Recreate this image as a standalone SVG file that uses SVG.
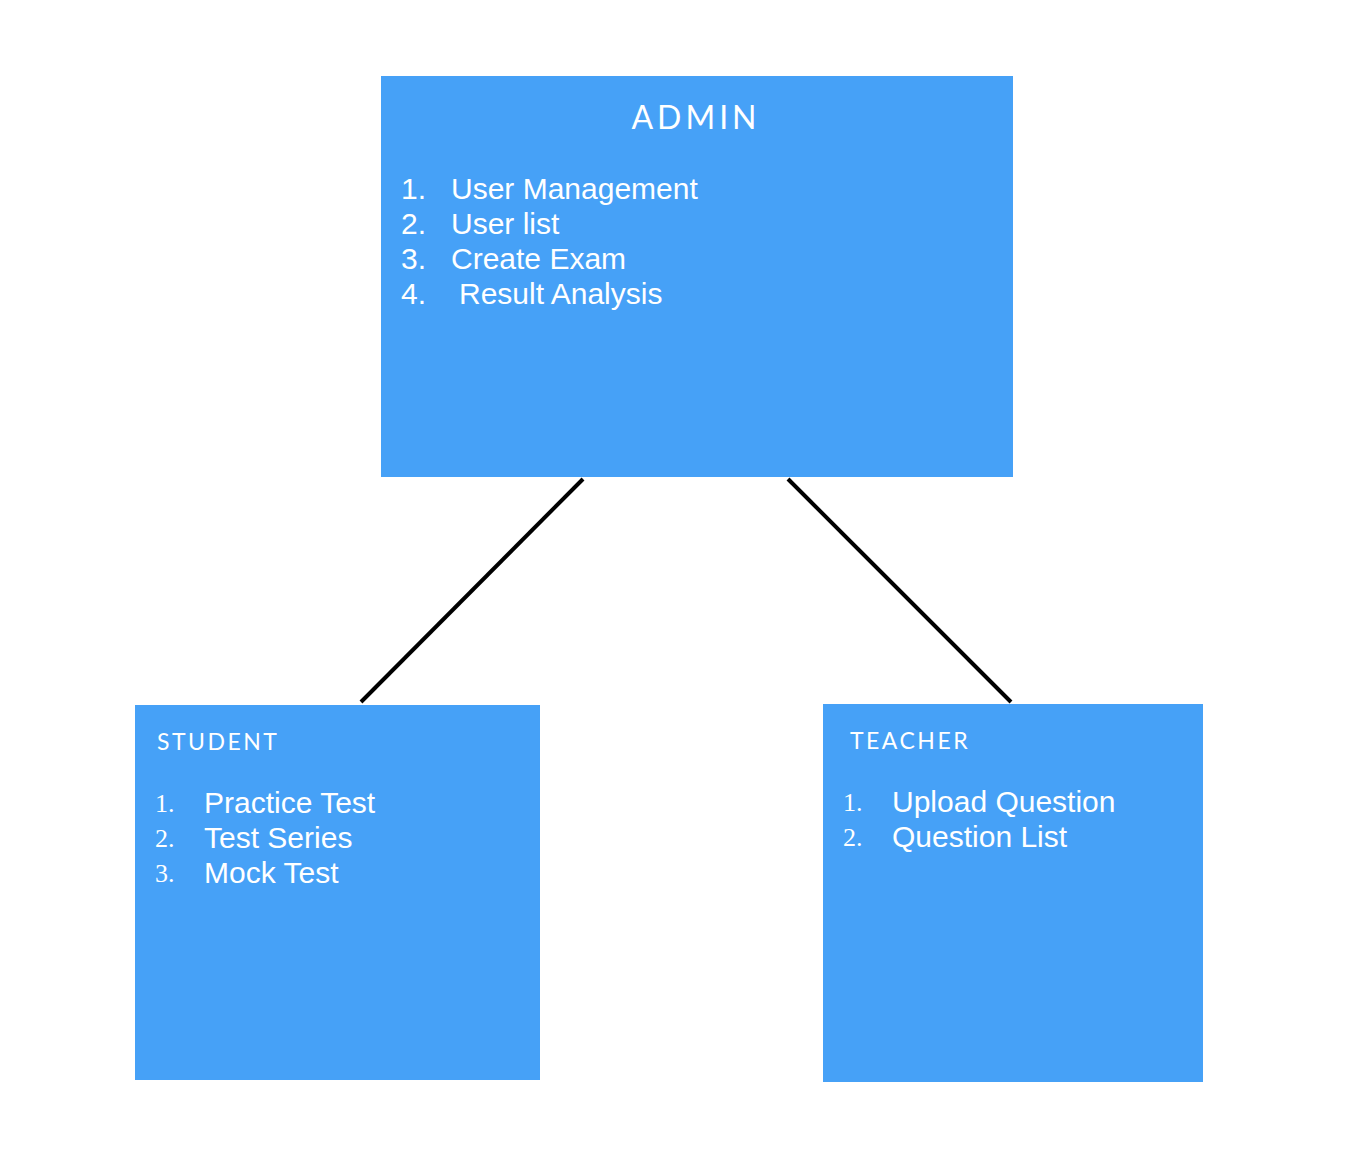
<svg xmlns="http://www.w3.org/2000/svg" width="1354" height="1152" viewBox="0 0 1354 1152">
  <style>
    .box { fill: #46A1F7; }
    .title { font-family: "Lato", "DejaVu Sans", sans-serif; font-weight: 400; fill: #ffffff; }
    .item { font-family: "Liberation Sans", Arial, sans-serif; font-size: 30px; fill: #ffffff; }
    .num2 { font-family: "Liberation Serif", "DejaVu Serif", serif; font-size: 26px; fill: #ffffff; }
    .link { stroke: #000000; stroke-width: 4; fill: none; }
  </style>
  <rect width="1354" height="1152" fill="#ffffff"/>
  <g id="connectors">
    <line class="link" x1="583" y1="479" x2="361" y2="702"/>
    <line class="link" x1="788" y1="479" x2="1011" y2="702"/>
  </g>
  <g id="admin">
    <rect class="box" x="381" y="76" width="632" height="401"/>
    <text class="title" x="696" y="129" text-anchor="middle" font-size="32" letter-spacing="4">ADMIN</text>
    <text class="item" x="401" y="199">1.</text>
    <text class="item" x="451" y="199">User Management</text>
    <text class="item" x="401" y="234">2.</text>
    <text class="item" x="451" y="234">User list</text>
    <text class="item" x="401" y="269">3.</text>
    <text class="item" x="451" y="269">Create Exam</text>
    <text class="item" x="401" y="304">4.</text>
    <text class="item" x="459" y="304">Result Analysis</text>
  </g>
  <g id="student">
    <rect class="box" x="135" y="705" width="405" height="375"/>
    <text class="title" x="157" y="750" font-size="23" letter-spacing="2.5">STUDENT</text>
    <text class="num2" x="155" y="812">1.</text>
    <text class="item" x="204" y="813">Practice Test</text>
    <text class="num2" x="155" y="847">2.</text>
    <text class="item" x="204" y="848">Test Series</text>
    <text class="num2" x="155" y="882">3.</text>
    <text class="item" x="204" y="883">Mock Test</text>
  </g>
  <g id="teacher">
    <rect class="box" x="823" y="704" width="380" height="378"/>
    <text class="title" x="850" y="749" font-size="23" letter-spacing="2.5">TEACHER</text>
    <text class="num2" x="843" y="811">1.</text>
    <text class="item" x="892" y="812">Upload Question</text>
    <text class="num2" x="843" y="846">2.</text>
    <text class="item" x="892" y="847">Question List</text>
  </g>
</svg>
